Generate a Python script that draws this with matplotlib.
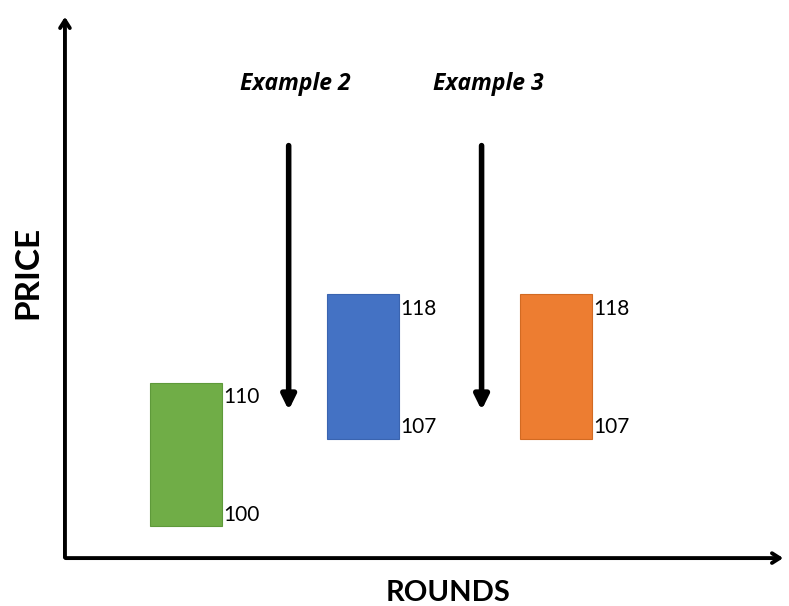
import matplotlib.pyplot as plt

# ---------------- DATA ----------------
rounds = [1.0, 2.0, 3.09]            # box centres (round units)
box_low = [100, 106.1, 106.1]        # drawn extents on the price scale
box_high = [110, 116.2, 116.2]
label_high = ['110', '118', '118']
label_low = ['100', '107', '107']
colors = ['#70AD47', '#4472C4', '#ED7D31']
edges = ['#5E9A3A', '#3A64B0', '#D26A22']

examples = ['Example 2', 'Example 3']
arrow_x = [1.58, 2.67]
arrow_top = 126.6
arrow_tip = 108.1

BOX_W = 0.41
X_MIN, X_MAX = -0.051, 4.407
Y_MIN, Y_MAX = 94.41, 136.78

plt.rcParams['font.family'] = ['Lato', 'DejaVu Sans']

fig = plt.figure(figsize=(7.89, 6.06), dpi=100)
ax = fig.add_axes([0, 0, 1, 1])
ax.set_xlim(X_MIN, X_MAX)
ax.set_ylim(Y_MIN, Y_MAX)
ax.axis('off')

# axes arrows
ax.annotate('', xy=(0.316, 135.8), xytext=(0.316, 97.6),
            arrowprops=dict(arrowstyle='->,head_length=0.55,head_width=0.35', lw=2.8, color='black'))
ax.annotate('', xy=(4.39, 97.76), xytext=(0.305, 97.76),
            arrowprops=dict(arrowstyle='->,head_length=0.55,head_width=0.35', lw=2.8, color='black'))

# boxes
for x, lo, hi, c, e, lh, ll in zip(rounds, box_low, box_high, colors, edges, label_high, label_low):
    ax.bar(x, hi - lo, bottom=lo, width=BOX_W, color=c, edgecolor=e, linewidth=0.8)
    ax.annotate(lh, xy=(x + BOX_W / 2, hi), xytext=(1, -3), textcoords='offset points',
                ha='left', va='top', fontsize=15)
    ax.annotate(ll, xy=(x + BOX_W / 2, lo), xytext=(1, 1), textcoords='offset points',
                ha='left', va='bottom', fontsize=15)

# example arrows + titles
for ax_x, name in zip(arrow_x, examples):
    ax.annotate('', xy=(ax_x, arrow_tip), xytext=(ax_x, arrow_top),
                arrowprops=dict(arrowstyle='-|>,head_length=0.85,head_width=0.42', lw=4, color='black',
                                shrinkA=0, shrinkB=0))
    ax.text(ax_x + 0.038, 130.9, name, ha='center', va='center', fontsize=16.5,
            fontweight='bold', fontstyle='italic', family=['Open Sans', 'DejaVu Sans'])

fig.text(0.035, 0.55, 'PRICE', rotation=90, ha='center', va='center', fontsize=24, fontweight='bold')
fig.text(0.568, 0.022, 'ROUNDS', ha='center', va='center', fontsize=21, fontweight='bold')

fig.savefig('out.png', dpi=100)
